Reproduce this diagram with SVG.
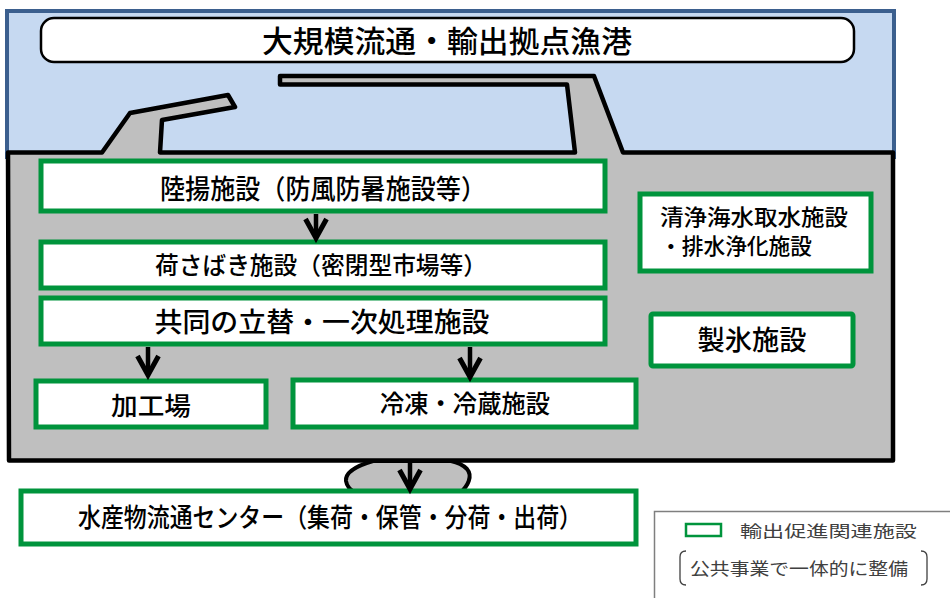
<svg xmlns="http://www.w3.org/2000/svg" width="950" height="598" viewBox="0 0 950 598">
<style>
.jp{font-family:"Noto Sans CJK JP","Noto Sans CJK SC",sans-serif;fill:#000;font-weight:500;}
.box{fill:#fff;stroke:#00943c;stroke-width:5;}
.arw{fill:none;stroke:#000;stroke-width:4.5;marker-end:url(#arr);}
.lg{font-family:"Noto Sans CJK JP","Noto Sans CJK SC",sans-serif;fill:#404040;}
</style>
<defs>
<marker id="arr" viewBox="-26 -16 34 32" refX="0" refY="0" markerWidth="34" markerHeight="32" markerUnits="userSpaceOnUse" orient="auto">
<path d="M-19,-10.5 L0,0 L-19,10.5" fill="none" stroke="#000" stroke-width="5"/>
</marker>
</defs>
<rect width="950" height="598" fill="#fff"/>
<g id="sea">
<rect x="7" y="11" width="887" height="146" fill="#c6d9f1" stroke="#3b5f8e" stroke-width="4"/>
</g>
<g id="land">
<path d="M8,152.5 L102,152.5 L130,113 L228,95 L235,107 L162,120 L160,152.5 L575,152.5 L567,84.5 L280,84.5 L280,76 L594,76 L623,152.5 L893,152.5 L893,460.5 L9,460.5 Z" fill="#bfbfbf" stroke="#000" stroke-width="4.5" stroke-linejoin="round"/>
</g>
<g id="title">
<rect x="41" y="18" width="813" height="44" rx="13" fill="#fff" stroke="#000" stroke-width="2.5"/>
<text class="jp" x="447" y="52" font-size="30" text-anchor="middle" textLength="370" lengthAdjust="spacingAndGlyphs">大規模流通・輸出拠点漁港</text>
</g>
<g id="channel">
<path d="M373,461 C356,466 345,472 346,481 C347,488 352,491 356,493 L460,493 C468,486 473,476 467,469 C462,464 456,462 451,461 Z" fill="#bfbfbf" stroke="#000" stroke-width="4"/>
</g>
<g id="n1">
<rect class="box" x="41" y="161" width="564" height="50"/>
<text class="jp" x="323" y="199" font-size="27" text-anchor="middle" textLength="326" lengthAdjust="spacingAndGlyphs">陸揚施設（防風防暑施設等）</text>
</g>
<g id="n2">
<rect class="box" x="41" y="242" width="564" height="46"/>
<text class="jp" x="321" y="274" font-size="24" text-anchor="middle" textLength="332" lengthAdjust="spacingAndGlyphs">荷さばき施設（密閉型市場等）</text>
</g>
<g id="n3">
<rect class="box" x="41" y="298" width="564" height="46"/>
<text class="jp" x="322" y="332" font-size="27" text-anchor="middle" textLength="335" lengthAdjust="spacingAndGlyphs">共同の立替・一次処理施設</text>
</g>
<g id="n4">
<rect class="box" x="36" y="381" width="230" height="46"/>
<text class="jp" x="151" y="415" font-size="25" text-anchor="middle" textLength="80" lengthAdjust="spacingAndGlyphs">加工場</text>
</g>
<g id="n5">
<rect class="box" x="293" y="380" width="343" height="47"/>
<text class="jp" x="465" y="413" font-size="25" text-anchor="middle" textLength="170" lengthAdjust="spacingAndGlyphs">冷凍・冷蔵施設</text>
</g>
<g id="n6">
<rect class="box" x="640" y="194" width="231" height="77"/>
<text class="jp" x="660" y="225" font-size="22" textLength="188" lengthAdjust="spacingAndGlyphs">清浄海水取水施設</text>
<text class="jp" x="660" y="254" font-size="22" textLength="152" lengthAdjust="spacingAndGlyphs">・排水浄化施設</text>
</g>
<g id="n7">
<rect class="box" x="651" y="314" width="202" height="52" rx="2"/>
<text class="jp" x="752" y="350" font-size="27" text-anchor="middle" textLength="109" lengthAdjust="spacingAndGlyphs">製氷施設</text>
</g>
<g id="n8">
<rect class="box" x="21" y="491" width="615" height="53"/>
<text class="jp" x="330" y="527" font-size="26" text-anchor="middle" textLength="504" lengthAdjust="spacingAndGlyphs">水産物流通センター（集荷・保管・分荷・出荷）</text>
</g>
<g id="connectors">
<path class="arw" d="M316,214 L316,238"/>
<path class="arw" d="M148,347 L148,375"/>
<path class="arw" d="M470,347 L470,377"/>
<path class="arw" d="M410,462 L410,489"/>
</g>
<g id="legend">
<rect x="654.5" y="511.5" width="300" height="90" fill="#fff" stroke="#7f7f7f" stroke-width="1.5"/>
<rect x="686" y="524" width="35" height="12" fill="none" stroke="#00943c" stroke-width="2.5"/>
<text class="lg" x="740" y="537" font-size="16" textLength="177" lengthAdjust="spacingAndGlyphs">輸出促進関連施設</text>
<path d="M686,551 Q680,551 680,557 L680,579 Q680,585 686,585" fill="none" stroke="#404040" stroke-width="1.3"/>
<text class="lg" x="690" y="575" font-size="17" textLength="218" lengthAdjust="spacingAndGlyphs">公共事業で一体的に整備</text>
<path d="M921,551 Q927,551 927,557 L927,579 Q927,585 921,585" fill="none" stroke="#404040" stroke-width="1.3"/>
</g>
</svg>
